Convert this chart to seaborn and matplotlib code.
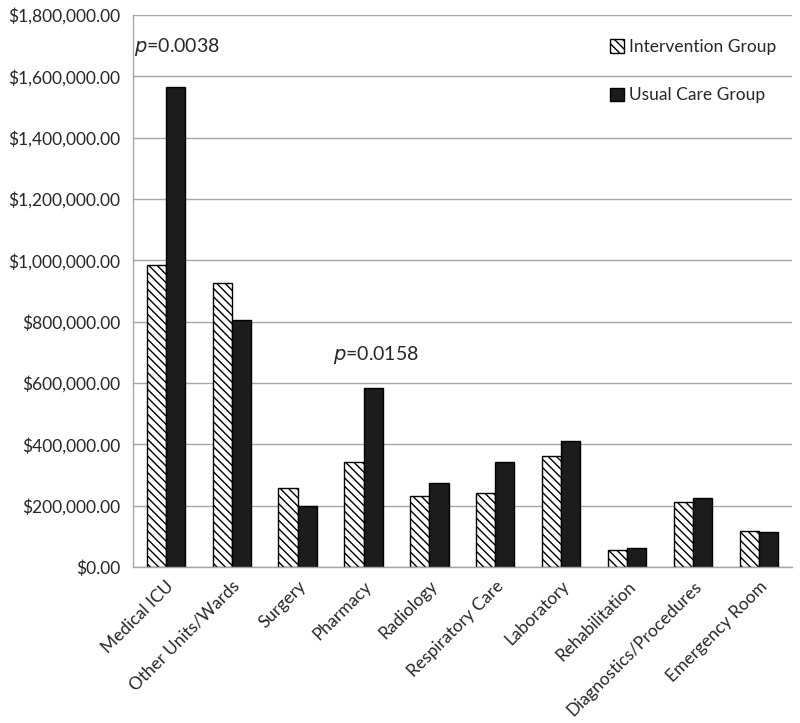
import matplotlib
matplotlib.use("Agg")
import matplotlib.pyplot as plt
import seaborn as sns
import pandas as pd
import numpy as np
from matplotlib.patches import Patch
from matplotlib.ticker import FuncFormatter, FixedLocator

categories = ["Medical ICU", "Other Units/Wards", "Surgery", "Pharmacy", "Radiology",
              "Respiratory Care", "Laboratory", "Rehabilitation", "Diagnostics/Procedures",
              "Emergency Room"]
intervention = [986000, 926000, 256000, 343000, 231000, 240000, 361000, 55000, 210000, 116000]
usual_care = [1567000, 807000, 197000, 585000, 273000, 341000, 409000, 62000, 224000, 113000]
groups = ["Intervention Group", "Usual Care Group"]

df = pd.DataFrame({
    "category": categories * 2,
    "cost": intervention + usual_care,
    "group": [groups[0]] * len(categories) + [groups[1]] * len(categories),
})

sns.set_theme(style="white")
plt.rcParams['font.family'] = ['Lato', 'DejaVu Sans']
plt.rcParams['hatch.linewidth'] = 1.0

fig = plt.figure(figsize=(8, 7.23), dpi=100)
ax = fig.add_axes([0.166, 0.216, 0.824, 0.763])

sns.barplot(data=df, x="category", y="cost", hue="group", order=categories,
            hue_order=groups, palette=["white", "#1c1c1c"], width=0.58,
            edgecolor="black", linewidth=1.0, ax=ax, legend=False, saturation=1)

for p in ax.containers[0]:
    p.set_hatch("\\\\\\\\")
    p.set_facecolor("white")
    p.set_edgecolor("black")

ax.set_ylim(0, 1800000)
ax.set_xlim(-0.5, len(categories) - 0.5)
ax.set_yticks(np.arange(0, 1800001, 200000))
ax.yaxis.set_major_formatter(FuncFormatter(lambda v, _: "${:,.2f}".format(v)))
ax.grid(axis="y", color="#a6a6a6", linewidth=1.0)
ax.set_axisbelow(True)

ax.set_xticks(range(len(categories)))
ax.set_xticklabels(categories, rotation=45, ha="right", rotation_mode="anchor", fontsize=12.5)
ax.xaxis.set_minor_locator(FixedLocator(np.arange(-0.5, len(categories), 1.0)))
ax.tick_params(axis="x", which="major", length=0, pad=8)
ax.tick_params(axis="x", which="minor", length=6, color="#a6a6a6", width=1, direction="out")
ax.tick_params(axis="y", length=5, color="#a6a6a6", width=1, direction="out", labelsize=12.5, pad=4)

for side in ["top", "right"]:
    ax.spines[side].set_visible(False)
for side in ["left", "bottom"]:
    ax.spines[side].set_color("#a6a6a6")
    ax.spines[side].set_linewidth(1.0)

ax.set_xlabel("")
ax.set_ylabel("")

ax.text(-0.48, 1697000, r"$\it{p}$=0.0038", ha="left", va="center", fontsize=14)
ax.text(2.535, 690000, r"$\it{p}$=0.0158", ha="left", va="center", fontsize=14)

handles = [Patch(facecolor="white", edgecolor="black", hatch="\\\\\\\\", linewidth=1.0),
           Patch(facecolor="#1c1c1c", edgecolor="black", linewidth=1.0)]
ax.legend(handles, groups, loc="upper right", bbox_to_anchor=(1.0, 0.985), frameon=False,
          fontsize=12.5, handlelength=0.8, handleheight=0.8, handletextpad=0.3,
          labelspacing=1.85)

fig.savefig("out.png", dpi=100)
